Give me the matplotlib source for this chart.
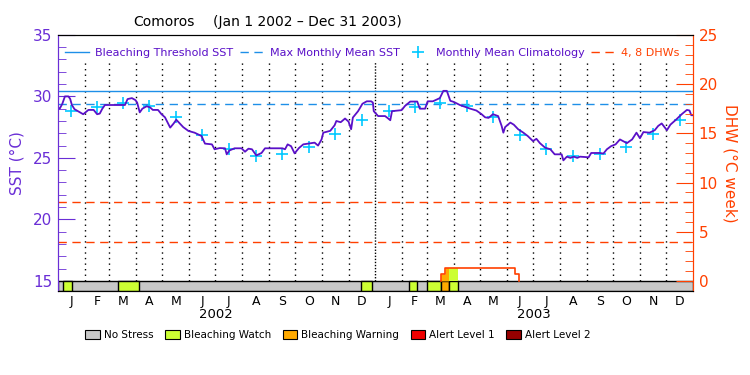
import datetime as dt
import numpy as np
import matplotlib
matplotlib.use("Agg")
import matplotlib.pyplot as plt
from matplotlib.lines import Line2D
from matplotlib.patches import Patch

# days since Jan 1 2002 and SST (deg C)
sst_days = [0, 2, 5, 8, 12, 14, 16, 19, 24, 29, 35, 41, 45, 48, 51, 54, 65, 77, 80, 85,
            89, 91, 94, 97, 102, 106, 109, 115, 119, 123, 129, 133, 136, 140, 144, 150,
            157, 165, 169, 177, 180, 186, 192, 194, 197, 203, 211, 215, 219, 223, 228,
            234, 238, 258, 261, 264, 268, 272, 277, 282, 295, 299, 303, 305, 313, 318,
            320, 325, 330, 334, 337, 339, 345, 350, 355, 360, 362, 363, 368, 376, 379,
            382, 384, 395, 399, 405, 413, 416, 422, 425, 431, 439, 443, 447, 451, 455,
            462, 474, 481, 487, 491, 495, 500, 506, 510, 512, 514, 520, 524, 529, 535,
            540, 546, 550, 554, 560, 566, 571, 579, 581, 585, 589, 593, 597, 600, 610,
            613, 623, 627, 631, 636, 641, 646, 650, 654, 660, 665, 669, 673, 680, 686,
            690, 694, 700, 704, 711, 717, 723, 726, 728, 730]
sst_values = [29.1, 29.0, 29.4, 30.0, 30.0, 29.8, 29.3, 28.96, 28.75, 28.55, 28.9, 28.9,
              28.55, 28.6, 29.0, 29.3, 29.3, 29.3, 29.78, 29.86, 29.7, 29.5, 28.7, 29.0,
              29.2, 29.1, 28.9, 28.9, 28.55, 28.3, 27.46, 27.8, 28.1, 27.8, 27.5, 27.19,
              27.05, 26.78, 26.16, 26.1, 25.7, 25.8, 25.78, 25.29, 25.6, 25.78, 25.78,
              25.5, 25.75, 25.7, 25.2, 25.4, 25.78, 25.78, 25.7, 26.1, 25.95, 25.37, 25.8,
              26.1, 26.24, 26.0, 26.5, 27.05, 27.2, 27.65, 28.0, 27.9, 28.2, 27.95, 27.33,
              28.28, 28.8, 29.4, 29.6, 29.6, 29.5, 28.8, 28.4, 28.4, 28.24, 28.06, 28.8,
              28.88, 29.23, 29.58, 29.58, 29.0, 29.0, 29.6, 29.6, 29.86, 30.45, 30.45,
              29.64, 29.55, 29.3, 29.0, 28.85, 28.55, 28.3, 28.25, 28.55, 28.4, 27.6,
              27.05, 27.5, 27.87, 27.7, 27.33, 27.05, 26.78, 26.37, 26.55, 26.2, 25.83,
              25.7, 25.29, 25.29, 24.8, 25.1, 25.0, 25.1, 25.0, 25.1, 25.05, 25.4, 25.4,
              25.35, 25.7, 25.96, 26.1, 26.5, 26.35, 26.2, 26.5, 27.05, 26.6, 27.1, 27.05,
              27.25, 27.6, 27.8, 27.25, 27.7, 28.14, 28.55, 28.9, 28.85, 28.47, 28.47]

threshold_sst = 30.4
mmm_sst = 29.4
clim_values = [28.8, 29.1, 29.45, 29.25, 28.35, 26.9, 25.7, 25.15, 25.3, 25.85, 26.97, 28.1]

dhw_days = [440, 440, 445, 525, 530]
dhw_values = [0, 0.71, 1.36, 0.71, 0]
dhw_levels = [4, 8]

# stress bar segments (day start, day end, level 1=watch 2=warning)
stress_start = [6, 68.6, 348, 404, 424, 440, 449]
stress_end = [16.4, 93.5, 361.3, 413, 440, 449, 460]
stress_level = [1, 1, 1, 1, 1, 2, 1]

stress_names = ["No Stress", "Bleaching Watch", "Bleaching Warning", "Alert Level 1", "Alert Level 2"]
stress_colors = ["#c8c8c8", "#ccff33", "#ffaa00", "#f00000", "#960000"]
month_letters = ["J", "F", "M", "A", "M", "J", "J", "A", "S", "O", "N", "D"]
years = [2002, 2003]

purple = "#5a10c8"
sst_axis = "#6a2ed6"
blue = "#1e8fe8"
cyan = "#00c8ff"
dhw_col = "#ff4000"

t0 = dt.date(2002, 1, 1)
def dday(y, m, d=1):
    return (dt.date(y, m, d) - t0).days

fig = plt.figure(figsize=(7.5, 3.75), dpi=100)
ax = fig.add_axes([0.0773, 0.224, 0.8467, 0.683])
ax.set_xlim(0, 730)
ax.set_ylim(14.18, 35)

# month dividers
for y in years:
    for m in range(1, 13):
        d = dday(y, m)
        if d == 0:
            continue
        ls = (0, (1, 1.2)) if m == 1 else (0, (1, 3))
        ax.plot([d, d], [15.0, 32.8], color="black", lw=1, ls=ls, zorder=1)

ax.axhline(threshold_sst, color=blue, lw=1, zorder=2)
ax.axhline(mmm_sst, color=blue, lw=1, ls=(0, (6, 4)), zorder=2)

clim_x = [(dday(y, m) + dday(y + (m == 12), m % 12 + 1)) / 2 for y in years for m in range(1, 13)]
ax.plot(clim_x, clim_values * 2, ls="none", marker="+", ms=9, mew=1.2, color=cyan, zorder=3)
ax.plot(sst_days, sst_values, color=purple, lw=1.3, zorder=4)

# stress bar
ax.broken_barh([(0, 730)], (14.18, 0.82), facecolor=stress_colors[0], edgecolor="black", lw=1, zorder=5)
for s, e, lv in zip(stress_start, stress_end, stress_level):
    ax.broken_barh([(s, e - s)], (14.18, 0.82), facecolor=stress_colors[lv], edgecolor="black", lw=1, zorder=6)

# DHW axis
ax2 = ax.twinx()
ax2.set_ylim(-1.02, 25)
for lv in dhw_levels:
    ax2.axhline(lv, color=dhw_col, lw=1, ls=(0, (6, 4)), zorder=2)
dd = np.array(dhw_days, float)
dv = np.array(dhw_values, float)
for s, e, lv in zip(stress_start, stress_end, stress_level):
    if e <= dd[0]:
        continue
    xs = np.linspace(s, e, 200)
    idx = np.searchsorted(dd, xs, side="right") - 1
    ax2.fill_between(xs, 0, dv[np.clip(idx, 0, len(dv) - 1)], color=stress_colors[lv], lw=0)
ax2.step(dhw_days, dhw_values, where="post", color=dhw_col, lw=1.2)

# axes styling
for a in (ax, ax2):
    a.spines["left"].set_color(sst_axis)
    a.spines["right"].set_color(dhw_col)
    a.spines["top"].set_color("black")
    a.spines["bottom"].set_color("black")
ax.set_yticks([15, 20, 25, 30, 35])
ax.set_yticks(np.arange(15, 36, 1), minor=True)
ax.tick_params(axis="y", which="major", direction="in", length=12, color=sst_axis,
               labelcolor=sst_axis, labelsize=11, pad=4)
ax.tick_params(axis="y", which="minor", direction="in", length=6, color=sst_axis)
ax2.set_yticks([0, 5, 10, 15, 20, 25])
ax2.set_yticks(np.arange(0, 26, 1), minor=True)
ax2.tick_params(axis="y", which="major", direction="in", length=12, color=dhw_col,
                labelcolor=dhw_col, labelsize=11, pad=4)
ax2.tick_params(axis="y", which="minor", direction="in", length=6, color=dhw_col)
ax.set_ylabel("SST (°C)", color=sst_axis, fontsize=11, labelpad=6)
ax2.set_ylabel("DHW (°C week)", color=dhw_col, fontsize=11, rotation=-90, labelpad=14)

mid = [(dday(y, m) + dday(y + (m == 12), m % 12 + 1)) / 2 for y in years for m in range(1, 13)]
ax.set_xticks(mid)
ax.set_xticklabels(month_letters * 2, fontsize=9)
ax.tick_params(axis="x", length=0, pad=3)
for y in years:
    ax.text((dday(y, 1) + dday(y, 12, 31)) / 2, -0.09, str(y), transform=ax.get_xaxis_transform(),
            ha="center", va="center", fontsize=9.5)

# top legend
handles = [Line2D([], [], color=blue, lw=1),
           Line2D([], [], color=blue, lw=1, ls=(0, (6, 4))),
           Line2D([], [], color=cyan, ls="none", marker="+", ms=9, mew=1.2),
           Line2D([], [], color=dhw_col, lw=1, ls=(0, (6, 4)))]
labels = ["Bleaching Threshold SST", "Max Monthly Mean SST", "Monthly Mean Climatology", "4, 8 DHWs"]
leg = ax2.legend(handles, labels, loc="center", bbox_to_anchor=(0.495, 0.93), ncol=4, frameon=False,
                 fontsize=8, handlelength=2.2, handletextpad=0.5, columnspacing=0.6,
                 borderaxespad=0)
for t, c in zip(leg.get_texts(), [purple, purple, purple, dhw_col]):
    t.set_color(c)

fig.text(133 / 750, 1 - 22 / 375, "Comoros", ha="left", va="center", fontsize=10)
fig.text(213 / 750, 1 - 22 / 375, "(Jan 1 2002 \u2013 Dec 31 2003)", ha="left", va="center", fontsize=10)

patches = [Patch(facecolor=c, edgecolor="black", lw=0.8) for c in stress_colors]
fig.legend(patches, stress_names, loc="center", bbox_to_anchor=(338 / 750, 1 - 335 / 375), ncol=5,
           frameon=False, fontsize=7.5, handlelength=1.4, handleheight=0.9, handletextpad=0.4,
           columnspacing=1.1)

fig.savefig("out.png", dpi=100)
